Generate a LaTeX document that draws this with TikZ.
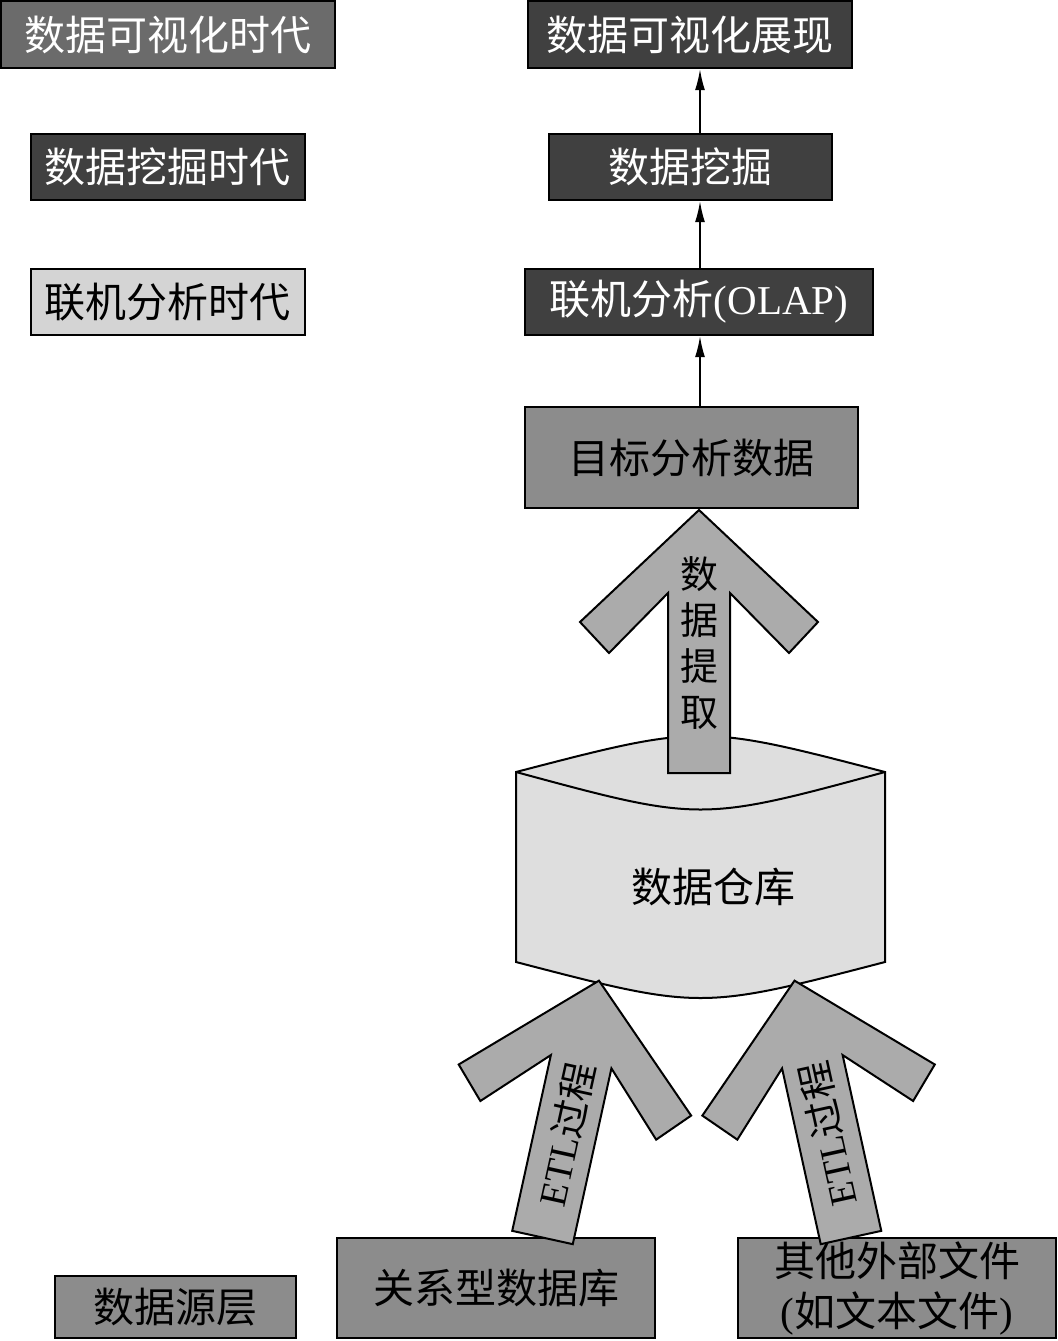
\documentclass[tikz,border=0pt]{standalone}
\usepackage{fontspec}
\setmainfont{Liberation Serif}
\newfontfamily\cjk{Noto Sans CJK SC}
\usetikzlibrary{arrows.meta,positioning}

\newcommand\boxfont{\fontsize{20.5}{25}\selectfont\cjk}
\newcommand\arrfont{\fontsize{19}{23}\selectfont\cjk}

\tikzset{
  fatarrow/.pic={
    \draw[fatfill] (0,-263) -- (119,-151) -- (90,-120) -- (31,-180) -- (31,0)
      -- (-31,0) -- (-31,-180) -- (-90,-120) -- (-119,-151) -- cycle;
  }
}

\begin{document}
\begin{tikzpicture}[
    x=0.5pt, y=-0.5pt,
    box/.style={rectangle, draw, line width=1.2pt, inner sep=0pt, align=center, font=\boxfont},
    darkbox/.style={box, fill=black!75, text=white},
    midbox/.style={box, fill=black!45},
    lightbox/.style={box, fill=black!17},
    fatfill/.style={draw, line width=1pt, fill=black!33, line join=miter},
    conn/.style={-{Latex[length=10.5pt, width=5pt]}, line width=0.8pt}
  ]
  \useasboundingbox (0,0) rectangle (1057,1341);

  % --- eras, left column ---
  \node[box, fill=black!58, text=white, minimum width=167pt, minimum height=33.5pt] (eraViz) at (168,34.5) {数据可视化时代};
  \node[darkbox, minimum width=137pt, minimum height=33pt] (eraMine) at (168,167) {数据挖掘时代};
  \node[lightbox, minimum width=137pt, minimum height=33pt] (eraOlap) at (168,302) {联机分析时代};
  \node[midbox, minimum width=120.5pt, minimum height=31pt] (eraSrc) at (175.5,1307) {数据源层};

  % --- analysis column ---
  \node[darkbox, minimum width=162pt, minimum height=33.5pt] (viz) at (690,34.5) {数据可视化展现};
  \node[darkbox, minimum width=141.5pt, minimum height=33pt] (mine) at (690.5,167) {数据挖掘};
  \node[darkbox, minimum width=174pt, minimum height=33pt] (olap) at (699,302) {联机分析{\rmfamily (OLAP)}};
  \node[midbox, minimum width=166.5pt, minimum height=50.5pt] (tgt) at (691.5,457.5) {目标分析数据};

  % --- data warehouse ---
  \path[draw, line width=1pt, fill=black!13] (516,772) .. controls (700.5,724) .. (885,772)
    -- (885,962) .. controls (700.5,1010) .. (516,962) -- cycle;
  \draw[line width=1pt] (516,772) .. controls (700.5,822) .. (885,772);
  \node[font=\boxfont] (wh) at (713,887) {数据仓库};

  % --- sources ---
  \node[midbox, minimum width=159pt, minimum height=50pt] (rdb) at (496,1288) {关系型数据库};
  \node[midbox, minimum width=159pt, minimum height=50pt] (ext) at (897,1288) {其他外部文件\\{\rmfamily(}如文本文件{\rmfamily)}};

  % thin arrows
  \coordinate (ax) at (700,0);
  \draw[conn] (tgt.north -| ax) -- (olap.south -| ax);
  \draw[conn] (olap.north -| ax) -- (mine.south -| ax);
  \draw[conn] (mine.north -| ax) -- (viz.south -| ax);

  % fat arrows
  \coordinate (ex) at (699,773);
  \coordinate (etlL) at (542.5,1237.5);
  \coordinate (etlR) at (851,1237.5);
  \pic at (ex) {fatarrow};
  \pic[rotate=-12.4] at (etlL) {fatarrow};
  \pic[rotate=12.4] at (etlR) {fatarrow};

  \node[font=\arrfont, align=center] (exTxt) at (699,643) {数\\据\\提\\取};
  \node[font=\arrfont, rotate=77.6] (etlTxtL) at (566,1134) {{\rmfamily ETL}过程};
  \node[font=\arrfont, rotate=102.4] (etlTxtR) at (827.5,1134) {{\rmfamily ETL}过程};
\end{tikzpicture}
\end{document}
